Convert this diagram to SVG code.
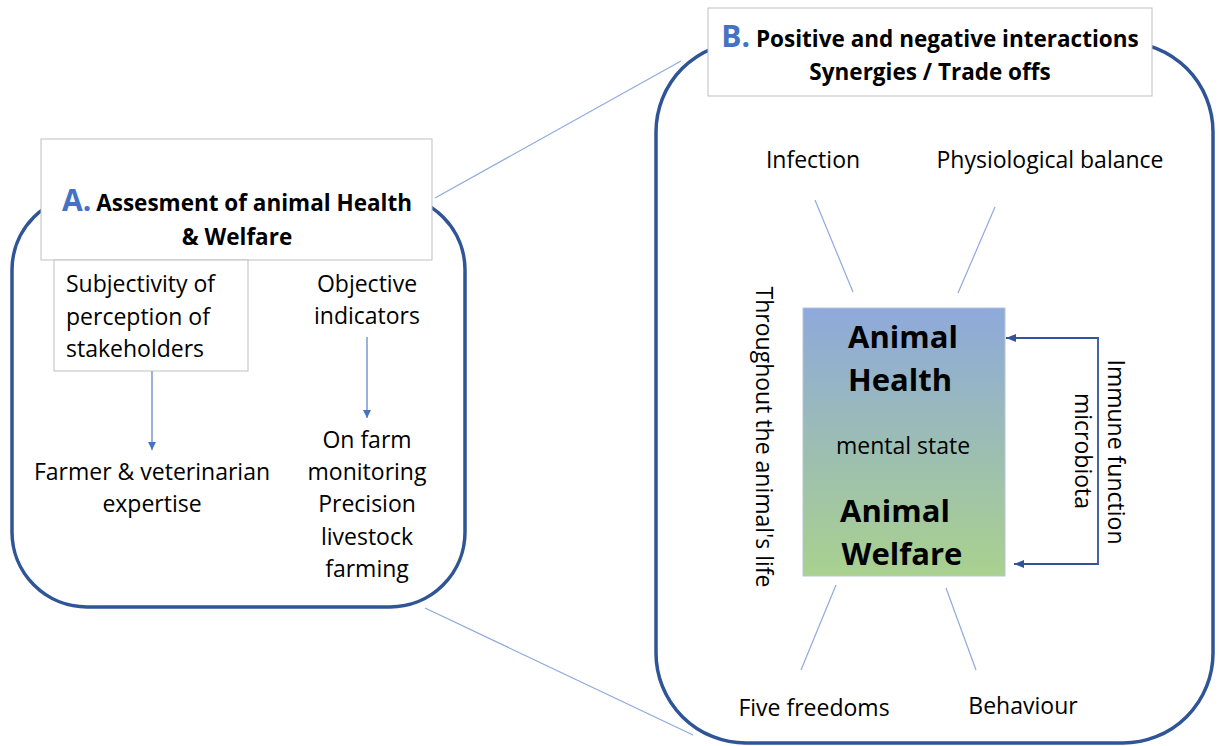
<svg xmlns="http://www.w3.org/2000/svg" width="1219" height="746" viewBox="0 0 1219 746">
<defs>
<linearGradient id="g1" x1="0" y1="0" x2="0" y2="1">
<stop offset="0" stop-color="#8EA9DB"/>
<stop offset="1" stop-color="#A9D18E"/>
</linearGradient>
<marker id="mA" viewBox="0 0 10 10" refX="10" refY="5" markerWidth="8" markerHeight="8" markerUnits="userSpaceOnUse" orient="auto">
<path d="M0,0 L10,5 L0,10 Z" fill="#4472C4"/>
</marker>
<marker id="mB" viewBox="0 0 10 10" refX="10" refY="5" markerWidth="10" markerHeight="10" markerUnits="userSpaceOnUse" orient="auto">
<path d="M0,1 L10,5 L0,9 Z" fill="#2F5597"/>
</marker>
</defs>
<style>
.panel{fill:none;stroke:#2F5597;stroke-width:3.5}
.box{fill:#fff;stroke:#BFBFBF;stroke-width:1}
.t{font-family:"Open Sans","Noto Sans",sans-serif;font-size:23px;fill:#000}
.tb{font-family:"Open Sans","Noto Sans",sans-serif;font-weight:bold;fill:#000}
.lab{font-family:"Open Sans","Noto Sans",sans-serif;font-weight:bold;fill:#4472C4}
.thin{stroke:#8FAADC;stroke-width:1.2;fill:none}
.arr{stroke:#5A7EC0;stroke-width:1.2;fill:none}
</style>
<rect width="1219" height="746" fill="#fff"/>

<g id="connectors">
<line class="thin" x1="435" y1="198" x2="681" y2="61"/>
<line class="thin" x1="425" y1="608" x2="693" y2="735"/>
<line class="arr" x1="152" y1="371" x2="152" y2="450" marker-end="url(#mA)"/>
<line class="arr" x1="367" y1="337" x2="367" y2="418" marker-end="url(#mA)"/>
<line class="thin" x1="815" y1="200" x2="853" y2="292"/>
<line class="thin" x1="995" y1="207" x2="958" y2="293"/>
<line class="thin" x1="836" y1="585" x2="801" y2="670"/>
<line class="thin" x1="946" y1="588" x2="976" y2="670"/>
<path d="M1098,440 V338 H1006" stroke="#2F5597" stroke-width="1.8" fill="none" marker-end="url(#mB)"/>
<path d="M1098,440 V564 H1014" stroke="#2F5597" stroke-width="1.8" fill="none" marker-end="url(#mB)"/>
</g>

<g id="panelA">
<rect class="panel" x="12" y="195" width="453" height="412" rx="75" ry="75"/>
</g>
<g id="panelB">
<rect class="panel" x="656" y="42" width="557" height="701" rx="90" ry="90"/>
</g>

<g id="titleA">
<rect class="box" x="41" y="139" width="391" height="121"/>
<text x="237" y="211" text-anchor="middle"><tspan class="lab" font-size="30">A.</tspan><tspan class="tb" font-size="22.5" dx="5">Assesment of animal Health</tspan></text>
<text class="tb" font-size="22.5" x="237" y="245" text-anchor="middle">&amp; Welfare</text>
</g>

<g id="subjectivity">
<rect class="box" x="54" y="260" width="194" height="111"/>
<text class="t" x="66" y="292">Subjectivity of</text>
<text class="t" x="66" y="325">perception of</text>
<text class="t" x="66" y="357">stakeholders</text>
</g>

<g id="objective">
<text class="t" x="367" y="292" text-anchor="middle">Objective</text>
<text class="t" x="367" y="324" text-anchor="middle">indicators</text>
</g>

<g id="farmer">
<text class="t" x="152" y="480" text-anchor="middle">Farmer &amp; veterinarian</text>
<text class="t" x="152" y="512" text-anchor="middle">expertise</text>
</g>

<g id="onfarm">
<text class="t" x="367" y="448" text-anchor="middle">On farm</text>
<text class="t" x="367" y="480" text-anchor="middle">monitoring</text>
<text class="t" x="367" y="512" text-anchor="middle">Precision</text>
<text class="t" x="367" y="545" text-anchor="middle">livestock</text>
<text class="t" x="367" y="577" text-anchor="middle">farming</text>
</g>

<g id="titleB">
<rect class="box" x="708" y="8" width="444" height="88"/>
<text x="930" y="47" text-anchor="middle"><tspan class="lab" font-size="30">B.</tspan><tspan class="tb" font-size="22.5" dx="6">Positive and negative interactions</tspan></text>
<text class="tb" font-size="22.5" x="930" y="80" text-anchor="middle">Synergies / Trade offs</text>
</g>

<g id="infection"><text class="t" x="813" y="168" text-anchor="middle">Infection</text></g>
<g id="physio"><text class="t" x="1050" y="168" text-anchor="middle">Physiological balance</text></g>
<g id="five"><text class="t" x="814" y="716" text-anchor="middle">Five freedoms</text></g>
<g id="behaviour"><text class="t" x="1023" y="714" text-anchor="middle">Behaviour</text></g>

<g id="central">
<rect x="803" y="308" width="202" height="268" fill="url(#g1)" stroke="#B4C4D4" stroke-width="1"/>
<text class="tb" font-size="31" x="903" y="348" text-anchor="middle">Animal</text>
<text class="tb" font-size="31" x="900" y="391" text-anchor="middle">Health</text>
<text class="t" font-size="21" x="903" y="454" text-anchor="middle">mental state</text>
<text class="tb" font-size="31" x="895" y="522" text-anchor="middle">Animal</text>
<text class="tb" font-size="31" x="902" y="565" text-anchor="middle">Welfare</text>
</g>

<g id="throughout">
<text class="t" font-size="23.5" transform="translate(756,437) rotate(90)" text-anchor="middle">Throughout the animal's life</text>
</g>
<g id="immune">
<text class="t" transform="translate(1108,452) rotate(90)" text-anchor="middle">Immune function</text>
<text class="t" transform="translate(1075,451) rotate(90)" text-anchor="middle">microbiota</text>
</g>
</svg>
